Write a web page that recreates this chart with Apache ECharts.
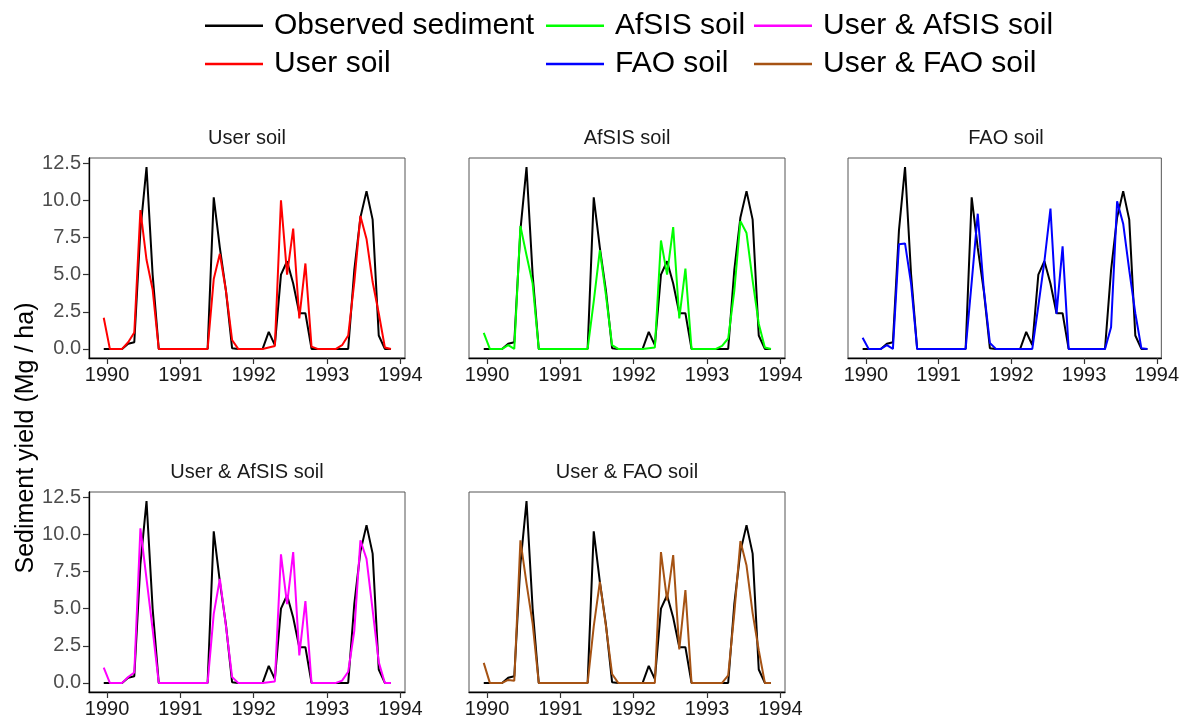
<!DOCTYPE html>
<html>
<head>
<meta charset="utf-8">
<title>Sediment yield by soil dataset</title>
<script src="https://cdn.jsdelivr.net/npm/echarts@6.0.0/dist/echarts.min.js"></script>
<style>
  html, body { margin: 0; padding: 0; background: #fff; }
  #chart { width: 1182px; height: 725px; }
</style>
</head>
<body>
<div id="chart"></div>
<script>
// Monthly time steps (decimal years), first step just before 1990
const firstStep = 1989.955;
const stepCount = 48;
const months = Array.from({ length: stepCount }, (_, i) => firstStep + i / 12);

const yearTicks = [1990, 1991, 1992, 1993, 1994];
const yieldTicks = [0, 2.5, 5, 7.5, 10, 12.5];

// Sediment yield (Mg / ha), one value per month
const observed = [
  0, 0, 0, 0, 0.35, 0.45, 8.0, 12.24, 5.0, 0,
  0, 0, 0, 0, 0, 0, 0,
  0, 10.2, 6.8, 3.9, 0.05, 0,
  0, 0, 0, 0,
  1.15, 0.25, 5.0, 5.9, 4.4, 2.4, 2.4, 0,
  0, 0, 0, 0,
  0, 0, 5.3, 8.85, 10.62, 8.7, 0.9, 0, 0
];
const userSoil = [
  2.1, 0, 0, 0, 0.45, 1.1, 9.35, 6.0, 4.0, 0,
  0, 0, 0, 0, 0, 0, 0,
  0, 4.7, 6.4, 3.9, 0.6, 0,
  0, 0, 0, 0,
  0.1, 0.2, 10.0, 5.0, 8.1, 2.05, 5.75, 0.15,
  0, 0, 0, 0,
  0.25, 0.9, 4.5, 8.95, 7.4, 4.5, 2.4, 0.1, 0
];
const afsisSoil = [
  1.08, 0, 0, 0, 0.25, 0, 8.27, 6.3, 4.4, 0,
  0, 0, 0, 0, 0, 0, 0,
  0, 3.2, 6.65, 3.6, 0.25, 0,
  0, 0, 0, 0,
  0.05, 0.1, 7.3, 5.0, 8.2, 2.05, 5.4, 0,
  0, 0, 0, 0,
  0.2, 0.7, 3.9, 8.6, 7.8, 4.6, 1.7, 0.1, 0
];
const faoSoil = [
  0.75, 0, 0, 0, 0.25, 0, 7.05, 7.1, 4.4, 0,
  0, 0, 0, 0, 0, 0, 0,
  0, 4.5, 9.1, 4.0, 0.4, 0,
  0, 0, 0, 0,
  0, 0, 2.9, 5.9, 9.44, 2.36, 6.9, 0,
  0, 0, 0, 0,
  0, 0, 1.46, 9.93, 8.43, 5.3, 2.4, 0.05, 0
];
const userAfsisSoil = [
  1.03, 0, 0, 0, 0.4, 0.7, 10.4, 7.0, 3.6, 0,
  0, 0, 0, 0, 0, 0, 0,
  0, 4.65, 7.0, 3.8, 0.4, 0,
  0, 0, 0, 0,
  0.05, 0.1, 8.65, 5.3, 8.8, 1.85, 5.5, 0,
  0, 0, 0, 0,
  0.15, 0.75, 3.5, 9.6, 8.35, 4.9, 1.4, 0, 0
];
const userFaoSoil = [
  1.35, 0, 0, 0, 0.2, 0.15, 9.6, 6.7, 4.0, 0,
  0, 0, 0, 0, 0, 0, 0,
  0, 3.8, 6.8, 3.8, 0.6, 0,
  0, 0, 0, 0,
  0, 0, 8.8, 5.55, 8.6, 2.25, 6.25, 0,
  0, 0, 0, 0,
  0, 0.5, 4.7, 9.55, 7.9, 4.7, 2.2, 0, 0
];

const panelTitles = ['User soil', 'AfSIS soil', 'FAO soil', 'User & AfSIS soil', 'User & FAO soil'];
const panelSeries = [userSoil, afsisSoil, faoSoil, userAfsisSoil, userFaoSoil];
const panelColors = ['#FF0000', '#00FF00', '#0000FF', '#FF00FF', '#A65314'];
const observedName = 'Observed sediment';

const FONT = '"Liberation Sans", Arial, sans-serif';

// Facet layout: 3 columns on the first row, 2 on the second
const panelW = 316, panelH = 200;
const colLeft = [89, 469, 848];
const rowTop = [158, 492];
const panels = panelTitles.map((t, k) => ({
  left: colLeft[k % 3],
  top: rowTop[Math.floor(k / 3)],
  showY: k % 3 === 0
}));

const toPairs = vals => vals.map((v, i) => [months[i], v]);

const grids = panels.map(p => ({
  left: p.left, top: p.top, width: panelW, height: panelH,
  show: true, borderColor: '#555', borderWidth: 1, backgroundColor: 'transparent'
}));

const xAxes = panels.map((p, k) => ({
  gridIndex: k, type: 'value',
  min: 1989.754, max: 1994.063,
  axisLine: { show: true, onZero: false, lineStyle: { color: '#000', width: 1.3 } },
  axisTick: { show: true, length: 6, customValues: yearTicks, lineStyle: { color: '#333', width: 1.2 } },
  axisLabel: {
    customValues: yearTicks, formatter: v => String(v),
    fontSize: 20, color: '#1a1a1a', margin: 7, fontFamily: FONT
  },
  splitLine: { show: false }
}));

const yAxes = panels.map((p, k) => ({
  gridIndex: k, type: 'value',
  min: -0.612, max: 12.85,
  axisLine: { show: p.showY, onZero: false, lineStyle: { color: '#000', width: 1.3 } },
  axisTick: { show: p.showY, length: 6, customValues: yieldTicks, lineStyle: { color: '#333', width: 1.2 } },
  axisLabel: {
    show: p.showY, customValues: yieldTicks, formatter: v => v.toFixed(1),
    fontSize: 20, color: '#4d4d4d', margin: 8, fontFamily: FONT
  },
  splitLine: { show: false }
}));

const series = [];
panels.forEach((p, k) => {
  series.push({
    name: observedName, type: 'line', xAxisIndex: k, yAxisIndex: k,
    data: toPairs(observed), symbol: 'none', showSymbol: false,
    color: '#000', itemStyle: { color: '#000' },
    lineStyle: { color: '#000', width: 2 }, silent: true
  });
  series.push({
    name: panelTitles[k], type: 'line', xAxisIndex: k, yAxisIndex: k,
    data: toPairs(panelSeries[k]), symbol: 'none', showSymbol: false,
    color: panelColors[k], itemStyle: { color: panelColors[k] },
    lineStyle: { color: panelColors[k], width: 2 }, silent: true
  });
});

// Legend laid out in three columns of two entries
const legendCols = [
  { left: 205, data: [observedName, 'User soil'] },
  { left: 546, data: ['AfSIS soil', 'FAO soil'] },
  { left: 754, data: ['User & AfSIS soil', 'User & FAO soil'] }
];
const legends = legendCols.map(c => ({
  left: c.left, top: 10.7, orient: 'vertical', padding: 0,
  icon: 'rect', itemWidth: 58, itemHeight: 2.5, itemGap: 8.3,
  selectedMode: false,
  textStyle: { fontSize: 30, lineHeight: 30, color: '#000', fontFamily: FONT, padding: [0, 0, 0, 6] },
  data: c.data
}));

const graphics = panels.map((p, k) => ({
  type: 'text', x: p.left + panelW / 2, y: p.top - 20,
  style: {
    text: panelTitles[k], fontSize: 20, fontFamily: FONT, fill: '#1a1a1a',
    align: 'center', verticalAlign: 'middle'
  }
}));
graphics.push({
  type: 'text', x: 26, y: 438, rotation: Math.PI / 2,
  style: {
    text: 'Sediment yield (Mg / ha)', fontSize: 25, fontFamily: FONT, fill: '#000',
    align: 'center', verticalAlign: 'middle'
  }
});

const chart = echarts.init(document.getElementById('chart'), null, { renderer: 'canvas' });
chart.setOption({
  animation: false,
  backgroundColor: '#fff',
  grid: grids,
  xAxis: xAxes,
  yAxis: yAxes,
  legend: legends,
  graphic: graphics,
  series: series
});
</script>
</body>
</html>
